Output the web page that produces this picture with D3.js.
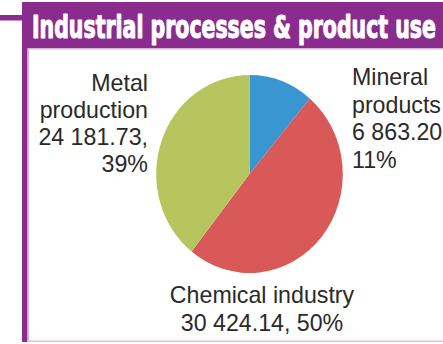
<!DOCTYPE html>
<html>
<head>
<meta charset="utf-8">
<script src="https://cdn.jsdelivr.net/npm/d3@7/dist/d3.min.js"></script>
<style>
  html, body { margin: 0; padding: 0; background: #ffffff; overflow: hidden; }
  svg { display: block; }
</style>
</head>
<body>
<svg id="chart" width="443" height="344"></svg>
<script>
// Industrial processes & product use — emissions by sub-sector
const title = "Industrial processes & product use";
const categories = ["Mineral products", "Chemical industry", "Metal production"];
const values = [6863.20, 30424.14, 24181.73];
const percents = ["11%", "50%", "39%"];
const colors = ["#3a96d0", "#d95858", "#b6c55e"];

const W = 443, H = 344;
const purple = "#8a2c8e";
const svg = d3.select("#chart");

// frame: header band, left rule, box outline
svg.append("rect").attr("x", 0).attr("y", 15).attr("width", 24).attr("height", 5.5).attr("fill", purple);
svg.append("rect").attr("x", 22).attr("y", 2).attr("width", W - 22).attr("height", 46).attr("fill", purple);
svg.append("rect").attr("x", 22).attr("y", 48).attr("width", W - 22).attr("height", 1.5).attr("fill", "#d7b4da");
svg.append("rect").attr("x", 22).attr("y", 2).attr("width", 5.5).attr("height", 340).attr("fill", purple);
svg.append("rect").attr("x", 27.5).attr("y", 49).attr("width", 1.5).attr("height", 293).attr("fill", "#d7b4da");
svg.append("rect").attr("x", 27.5).attr("y", 340.5).attr("width", W - 27.5).attr("height", 1.5).attr("fill", "#dcc0de");

// header title, squeezed horizontally into the band
const titleG = svg.append("g");
const titleText = titleG.append("text")
  .attr("x", 0).attr("y", 0)
  .attr("font-family", "'DejaVu Sans Condensed', sans-serif")
  .attr("font-weight", "bold").attr("font-size", 32)
  .attr("fill", "#ffffff")
  .attr("stroke", "#ffffff").attr("stroke-width", 1.1).attr("stroke-linejoin", "round")
  .text(title);
const natural = titleText.node().getComputedTextLength();
titleG.attr("transform", `translate(32,37.5) scale(${404 / natural},1)`);

// pie, slightly taller than wide
const cx = 249.5, cy = 174, rx = 93.3, ry = 99;
const pie = d3.pie().sort(null).value(d => d)(values);
const arc = d3.arc().innerRadius(0).outerRadius(rx);
const g = svg.append("g").attr("transform", `translate(${cx},${cy}) scale(1,${ry / rx})`);
g.selectAll("path").data(pie).join("path")
  .attr("d", arc)
  .attr("fill", (d, i) => colors[i]);

// labels
const fmt = v => d3.format(",.2f")(v).replace(/,/g, " ");
const labelFont = "'Liberation Sans', Arial, sans-serif";
const fs = 23.2;
const labels = [
  { lines: ["Mineral", "products", fmt(values[0]) + ",", percents[0]], x: cx + 102.5, y: cy - 89, step: 27.7, anchor: "start" },
  { lines: ["Chemical industry", fmt(values[1]) + ", " + percents[1]], x: cx + 12.5, y: cy + 128.5, step: 28, anchor: "middle" },
  { lines: ["Metal", "production", fmt(values[2]) + ",", percents[2]], x: cx - 101.5, y: cy - 83.3, step: 27, anchor: "end" }
];
labels.forEach(l => {
  const t = svg.append("text")
    .attr("font-family", labelFont).attr("font-size", fs)
    .attr("fill", "#2a2a2a").attr("text-anchor", l.anchor);
  l.lines.forEach((s, i) => {
    t.append("tspan").attr("x", l.x).attr("y", l.y + i * l.step).text(s);
  });
});
</script>
</body>
</html>
